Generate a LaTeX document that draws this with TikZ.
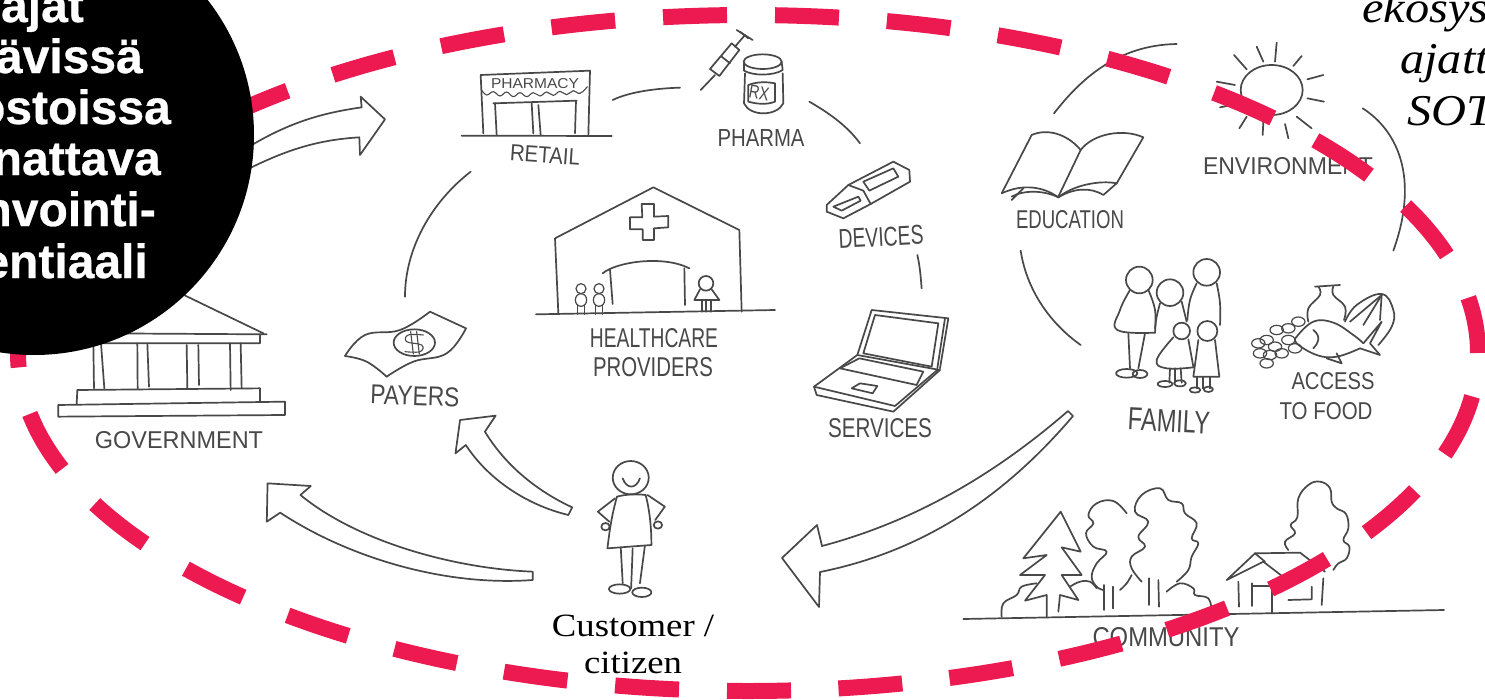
\documentclass[tikz,border=0pt]{standalone}
\usepackage{fontspec}
\usepackage{graphicx}
\setmainfont{Liberation Serif}
\setsansfont{Liberation Sans}
\newfontfamily\wideserif[FakeStretch=1.13]{Liberation Serif}
\newfontfamily\wideital[FakeStretch=1.1]{Liberation Serif}
\newfontfamily\heavy[BoldFeatures={FakeBold=0.6}]{Liberation Sans}
\definecolor{inkgrey}{HTML}{484848}
\definecolor{dashred}{HTML}{ED1A51}
\newcommand\sm[1]{plot[smooth,tension=.7] coordinates {#1}}
\newcommand\hand[3]{\resizebox{#1pt}{#2pt}{\sffamily #3}}
\tikzset{
  ink/.style={draw=inkgrey,line width=1.7pt,line join=round,line cap=round},
  lab/.style={text=inkgrey,inner sep=0pt,outer sep=0pt},
  zoomA/.style={shift={(#1)},x=0.33333pt,y=-0.33333pt},
  zoomB/.style={shift={(#1)},x=0.3827pt,y=-0.33333pt},
  blacktext/.style={text=white,inner sep=0pt,anchor=base east,font=\heavy\bfseries\fontsize{48}{48}\selectfont},
  ittext/.style={text=black,inner sep=0pt,anchor=base west,font=\wideital\itshape\fontsize{44}{44}\selectfont},
  custext/.style={text=black,inner sep=0pt,anchor=base,font=\wideserif\fontsize{32.5}{32.5}\selectfont},
  reddash/.style={dashred,line width=16pt}
}
\begin{document}
\begin{tikzpicture}[x=1pt,y=-1pt]
\useasboundingbox (0,0) rectangle (1485,699);
\clip (0,0) rectangle (1485,699);
\fill[white] (0,0) rectangle (1485,699);

% ---------- left part (government, payers)
\begin{scope}[zoomA={0,0}]
\draw[ink] (500,860)--(790,1000);
\draw[ink] (300,1000)--(800,1003)--(780,1003)--(780,1030)--(280,1030);
\foreach \a/\b/\c/\d in {280/1030/282/1165,303/1030/313/1165,412/1030/413/1165,442/1030/447/1160,560/1035/562/1165,595/1035/597/1155,690/1030/692/1170,722/1030/725/1165}
  \draw[ink] (\a,\b)--(\c,\d);
\draw[ink] (230,1212)--(232,1170)--(780,1165)--(780,1205);
\draw[ink] (175,1215)--(855,1205)--(855,1245)--(175,1250)--cycle;
% banknote
\draw[ink] \sm{(1035,1068)(1095,1005)(1200,990)(1290,935)};
\draw[ink] (1290,935)--(1398,985);
\draw[ink] \sm{(1398,985)(1340,1060)(1240,1085)(1160,1130)};
\draw[ink] \sm{(1160,1130)(1100,1085)(1035,1068)};
\draw[ink] (1243,1028) ellipse[x radius=62,y radius=40];
\draw[ink,line width=1.1pt] \sm{(1270,1005)(1225,1005)(1220,1025)(1265,1035)(1260,1055)(1215,1055)};
\draw[ink,line width=1.1pt] (1232,995)--(1240,1062);
\draw[ink,line width=1.1pt] (1250,995)--(1258,1062);
% arc payers-retail
\draw[ink] (1215,890) .. controls (1215,750) and (1290,610) .. (1412,515);
% arrow government-payers
\draw[ink] (700,470) .. controls (850,370) and (960,340) .. (1085,322)--(1082,290)--(1155,358)--(1080,465)--(1078,412) .. controls (950,420) and (850,450) .. (700,530);
\end{scope}

% ---------- middle part
\begin{scope}[zoomA={450,0}]
% pharmacy
\draw[ink] (100,400)--(92,225)--(420,212)--(415,408);
\draw[ink,line width=1.1pt] \sm{(95,270)(110,285)(130,275)(150,288)(170,276)(190,290)(210,278)(230,290)(250,278)(270,288)(290,276)(310,286)(330,274)(350,284)(370,272)(390,280)(412,260)};
\draw[ink] (130,310)--(380,302);
\draw[ink] (135,310)--(140,405);
\draw[ink] (245,310)--(250,400);
\draw[ink] (265,315)--(272,405);
\draw[ink] (378,302)--(375,400);
\draw[ink] (35,407)--(485,408);
\draw[ink] (488,300) .. controls (540,275) and (620,265) .. (690,263);
% syringe
\draw[ink] (780,207)--(845,130)--(868,150)--(808,228)--cycle;
\draw[ink] (795,225)--(752,270);
\draw[ink] (855,140)--(885,105);
\draw[ink] (870,95)--(895,115);
\draw[ink] (860,90)--(908,120);
\draw[ink] (815,170)--(840,190);
% jar
\draw[ink] (938,185) ellipse[x radius=57,y radius=22];
\draw[ink] (882,190)--(882,212) .. controls (910,228) and (970,228) .. (998,210)--(995,185);
\draw[ink] (885,220)--(882,310) .. controls (900,350) and (980,350) .. (1000,310)--(998,220);
\draw[ink] (895,255) .. controls (920,245) and (950,245) .. (975,250)--(975,305) .. controls (950,315) and (920,312) .. (895,305)--cycle;
\draw[ink] (1078,305) .. controls (1130,335) and (1190,375) .. (1230,430);
% usb
\draw[ink] (1195,555)--(1130,615)--(1130,635)--(1180,655)--(1262,612);
\draw[ink] (1195,555)--(1330,485)--(1378,510)--(1380,545)--(1262,612)--(1240,572)--cycle;
\draw[ink] (1240,545)--(1330,505)--(1345,530)--(1258,572)--cycle;
\draw[ink] (1150,620)--(1225,590)--(1232,602)--(1175,632)--cycle;
\draw[ink] (1402,765) .. controls (1410,800) and (1412,830) .. (1415,865);
% laptop
\draw[ink] (1222,1065)--(1265,930)--(1495,955)--(1470,1105);
\draw[ink] (1240,1060)--(1275,945)--(1465,970)--(1445,1100)--cycle;
\draw[ink] (1485,955)--(1462,1105);
\draw[ink] (1222,1065)--(1092,1160)--(1100,1185)--(1330,1235)--(1470,1110)--(1222,1065);
\draw[ink] (1092,1160)--(1335,1218)--(1462,1110);
\draw[ink] (1170,1105)--(1228,1075)--(1420,1115)--(1400,1155)--cycle;
\draw[ink] (1205,1165)--(1230,1150)--(1282,1158)--(1268,1180)--cycle;
% hospital
\draw[ink] (325,940)--(315,715)--(610,562)--(868,690)--(875,935);
\draw[ink] (258,943)--(975,930);
\draw[ink] (575,612)--(612,612)--(612,650)--(655,648)--(655,682)--(612,685)--(612,720)--(578,720)--(578,688)--(540,688)--(540,652)--(577,652)--cycle;
\draw[ink] (458,820) .. controls (500,785) and (640,765) .. (718,805);
\draw[ink] (480,810)--(488,912);
\draw[ink] (703,805)--(705,915);
\foreach \p in {393,447}{
  \draw[ink,line width=1.2pt] (\p,866) circle[radius=15];
  \draw[ink,line width=1.2pt] (\p,900) ellipse[x radius=17,y radius=19];
  \draw[ink,line width=1.2pt] (\p-11,915)--(\p-11,943);
  \draw[ink,line width=1.2pt] (\p+10,915)--(\p+10,943);
}
\draw[ink] (768,850) circle[radius=22];
\draw[ink] (750,868)--(733,900)--(808,900)--(785,868);
\draw[ink] (755,900)--(755,935);
\draw[ink] (768,900)--(768,935);
\draw[ink] (782,900)--(782,935);
\end{scope}

% ---------- right part
\begin{scope}[zoomA={980,0}]
\draw[ink] (222,340) .. controls (300,240) and (410,135) .. (590,132);
% sun
\draw[ink] (875,270) ellipse[x radius=93,y radius=75];
\foreach \a/\b/\c/\d in {890/128/885/185,830/140/850/185,762/165/800/208,965/168/940/198,1030/225/982/238,1032/305/982/295,995/385/950/350,915/372/925/415,850/365/848/405,800/350/778/385,710/245/765/255,720/322/770/312}
  \draw[ink] (\a,\b)--(\c,\d);
\draw[ink] (1148,325) .. controls (1250,390) and (1320,530) .. (1240,752);
% book
\draw[ink] (65,580)--(155,405) .. controls (200,385) and (260,400) .. (302,450) .. controls (340,400) and (430,385) .. (490,412)--(410,550);
\draw[ink] (302,450)--(235,590);
\draw[ink] (65,580) .. controls (130,550) and (190,560) .. (235,592) .. controls (280,555) and (360,540) .. (410,550);
\draw[ink] (95,600)--(130,565);
\draw[ink] (95,590) .. controls (130,570) and (190,570) .. (235,592) .. controls (280,565) and (330,560) .. (370,585)--(410,550);
\draw[ink] (122,752) .. controls (140,870) and (210,970) .. (302,1035);
% family
\draw[ink] (478,840) circle[radius=40];
\draw[ink] \sm{(450,870)(420,930)(412,990)(525,998)};
\draw[ink] \sm{(505,870)(525,930)(525,998)};
\draw[ink] (445,1000)--(450,1105);
\draw[ink] (495,1000)--(475,1105);
\draw[ink] (440,1120) ellipse[x radius=32,y radius=13];
\draw[ink] (480,1122) ellipse[x radius=22,y radius=12];
\draw[ink] (570,878) circle[radius=40];
\draw[ink] \sm{(540,910)(530,950)(525,985)};
\draw[ink] (605,905)--(620,965);
\draw[ink] (680,817) circle[radius=40];
\draw[ink] \sm{(650,850)(630,900)(622,960)};
\draw[ink] \sm{(710,850)(720,910)(720,975)};
\draw[ink] (605,993) circle[radius=25];
\draw[ink] \sm{(580,1012)(530,1080)(560,1105)(640,1102)};
\draw[ink] (625,1018)--(640,1100);
\draw[ink] (570,1105)--(568,1148);
\draw[ink] (585,1105)--(585,1148);
\draw[ink] (602,1105)--(605,1148);
\draw[ink] (555,1152) ellipse[x radius=22,y radius=9];
\draw[ink] (600,1150) ellipse[x radius=18,y radius=9];
\draw[ink] (682,993) circle[radius=30];
\draw[ink] (655,1020)--(640,1130)--(718,1130)--(705,1020);
\draw[ink] (650,1130)--(650,1165);
\draw[ink] (668,1130)--(668,1165);
\draw[ink] (690,1130)--(690,1165);
\draw[ink] (645,1170) ellipse[x radius=16,y radius=8];
\draw[ink] (685,1168) ellipse[x radius=14,y radius=8];
% food
\draw[ink] (1005,860)--(1080,855);
\draw[ink] \sm{(1015,860)(1020,885)(985,925)(985,965)};
\draw[ink] \sm{(1060,860)(1060,885)(1095,920)(1092,960)};
\draw[ink] \sm{(1095,965)(1130,915)(1205,882)(1240,930)(1235,980)(1195,1035)};
\draw[ink] (1110,965)--(1205,885);
\draw[ink] (1150,975)--(1205,885);
\draw[ink] (1205,885)--(1200,960);
\draw[ink] \sm{(950,1010)(1000,965)(1060,968)(1120,1005)(1150,1030)};
\draw[ink] (1150,1030)--(1205,965)--(1170,1030)--(1200,1065)--(1140,1045);
\draw[ink] \sm{(1140,1045)(1070,1070)(1010,1065)(950,1030)(950,1010)};
\draw[ink] (1070,1060)--(1085,1090)--(1040,1075);
\draw[ink] (1000,990) .. controls (1025,1010) and (1015,1030) .. (1000,1045);
\foreach \p/\q in {860/1090,835/1030,840/1060,870/1065,905/1060,860/1020,890/990,925/985,955/965,925/1020,885/1040,945/1045}
  \draw[ink,line width=1.2pt] (\p,\q) ellipse[x radius=20,y radius=14];
\end{scope}

% ---------- community
\begin{scope}[zoomA={950,440}]
\draw[ink] (40,537)--(1482,510);
\draw[ink] (290,530)--(290,465)--(225,482)--(285,405)--(210,405)--(290,345)--(220,355)--(332,215)--(392,335)--(335,322)--(395,405)--(335,405)--(385,480)--(330,465)--(325,515);
\draw[ink] \sm{(155,530)(160,490)(200,465)(215,440)(260,430)};
\draw[ink] \sm{(360,440)(390,425)(420,425)(440,445)};
\draw[ink] \sm{(530,220)(490,183)(440,190)(415,225)(430,250)(408,280)(430,320)(470,335)(440,370)(425,410)(440,440)(460,450)};
\draw[ink] \sm{(510,450)(530,430)(545,405)};
\draw[ink] \sm{(575,425)(545,385)(545,350)(585,320)(565,290)(595,245)(555,215)(575,165)(630,145)(655,180)(695,190)(705,220)(740,250)(725,295)(745,310)(725,350)(715,390)(680,425)};
\foreach \a/\b/\c/\d in {462/435/462/510,490/440/490/505,597/415/597/495,625/420/627/500}
  \draw[ink] (\a,\b)--(\c,\d);
\draw[ink] \sm{(650,455)(690,430)(730,445)(735,465)(775,475)(785,515)};
\draw[ink] \sm{(1015,330)(1005,305)(1035,280)(1022,255)(1042,232)(1045,175)(1075,135)(1110,125)(1140,145)(1145,185)(1160,205)(1188,222)(1195,265)(1180,300)(1198,320)(1190,355)(1165,370)(1150,390)};
\draw[ink] (1125,395)--(1050,338)--(915,340)--(830,420)--(940,365)--(1005,415);
\draw[ink] (915,340)--(945,365);
\draw[ink] (865,425)--(867,500);
\draw[ink] (905,430)--(905,498);
\draw[ink] (905,437)--(965,437)--(965,520);
\draw[ink] (1015,480)--(1085,478)--(1085,440);
\draw[ink] (1120,415)--(1115,495);
\end{scope}

% ---------- customer and arrows
\begin{scope}[zoomB={240,400}]
\draw[ink] (868,322)--(858,345) .. controls (750,315) and (650,240) .. (590,135)--(563,160)--(575,60)--(668,47)--(640,95) .. controls (690,190) and (770,270) .. (868,322);
\draw[ink] (765,515)--(765,540) .. controls (530,560) and (280,470) .. (105,338)--(70,365)--(72,250)--(185,258)--(158,285) .. controls (300,420) and (550,505) .. (765,515);
\draw[ink] (1021,233) ellipse[x radius=47,y radius=50];
\draw[ink] (1000,235) .. controls (1010,268) and (1035,268) .. (1045,235);
\draw[ink] (985,290) .. controls (970,350) and (965,400) .. (960,445)--(1075,435) .. controls (1075,380) and (1070,330) .. (1060,285);
\draw[ink] (985,290) .. controls (1010,282) and (1040,282) .. (1060,285);
\draw[ink] (980,295)--(935,335)--(965,365);
\draw[ink] (1065,285)--(1110,320)--(1085,360);
\draw[ink] (955,380) circle[radius=11];
\draw[ink] (1092,375) circle[radius=11];
\draw[ink] (995,445)--(1000,550);
\draw[ink] (1026,445)--(1022,565);
\draw[ink] (1058,437)--(1045,550);
\draw[ink] (992,567) ellipse[x radius=28,y radius=14];
\draw[ink] (1050,577) ellipse[x radius=25,y radius=14];
\end{scope}
\draw[ink] (1068,411)--(1073,416) .. controls (1010,490) and (930,550) .. (820,572)--(819,607)--(782,558)--(817,525)--(822,546) .. controls (920,520) and (1000,470) .. (1068,411);

% ---------- hand labels
\node[lab] (lgov) at (179,440) {\hand{168}{17}{GOVERNMENT}};
\node[lab,rotate=-2] (lpay) at (415,396) {\hand{89}{19}{PAYERS}};
\node[lab,rotate=-4] (lret) at (545,155) {\hand{70}{16}{RETAIL}};
\node[lab] (lpha) at (761,138) {\hand{87}{17}{PHARMA}};
\node[lab,rotate=3] (ldev) at (881,237) {\hand{85}{19}{DEVICES}};
\node[lab] (lhea) at (654,338) {\hand{128}{19}{HEALTHCARE}};
\node[lab] (lpro) at (653,367) {\hand{120}{19}{PROVIDERS}};
\node[lab] (lser) at (880,428) {\hand{104}{19}{SERVICES}};
\node[lab] (lenv) at (1288,166) {\hand{170}{17}{ENVIRONMENT}};
\node[lab] (ledu) at (1070,220) {\hand{108}{18}{EDUCATION}};
\node[lab,rotate=-3] (lfam) at (1169,421) {\hand{82}{22}{FAMILY}};
\node[lab] (lacc) at (1333,381) {\hand{83}{17}{ACCESS}};
\node[lab] (lfoo) at (1326,411) {\hand{93}{17}{TO FOOD}};
\node[lab] (lcom) at (1166,637) {\hand{147}{19}{COMMUNITY}};
\node[lab] (lsign) at (535,84) {\hand{88}{10}{PHARMACY}};
\node[lab,rotate=-10] (lrx) at (759,93) {\hand{20}{13}{RX}};

% ---------- texts
\node[custext] (cus1) at (633,636) {Customer /};
\node[custext] (cus2) at (633,673) {citizen};
\node[ittext] (it1) at (1362,22) {ekosys};
\node[ittext] (it2) at (1400,73) {ajatt};
\node[ittext] (it3) at (1407,125) {SOT};

% ---------- dashed ellipse, one arc per quadrant
\draw[reddash,dash pattern=on 64pt off 48pt,dash phase=85pt] (748,15) arc[start angle=270,end angle=360,x radius=730,y radius=338];
\draw[reddash,dash pattern=on 64pt off 47.5pt,dash phase=21pt] (748,691) arc[start angle=90,end angle=0,x radius=730,y radius=338];
\draw[reddash,dash pattern=on 64pt off 48pt,dash phase=43pt] (748,691) arc[start angle=90,end angle=180,x radius=730,y radius=338];
\draw[reddash,dash pattern=on 64pt off 48pt,dash phase=91pt] (748,15) arc[start angle=270,end angle=180,x radius=730,y radius=338];

% ---------- black disc
\fill[black] (34,135) circle[radius=220];
\node[blacktext] (b1) at (84,22) {ajat};
\node[blacktext] (b2) at (143,73) {ävissä};
\node[blacktext] (b3) at (171,124) {ostoissa};
\node[blacktext] (b4) at (161,175) {nattava};
\node[blacktext] (b5) at (156,226) {nvointi-};
\node[blacktext] (b6) at (148,278) {entiaali};
\end{tikzpicture}
\end{document}
